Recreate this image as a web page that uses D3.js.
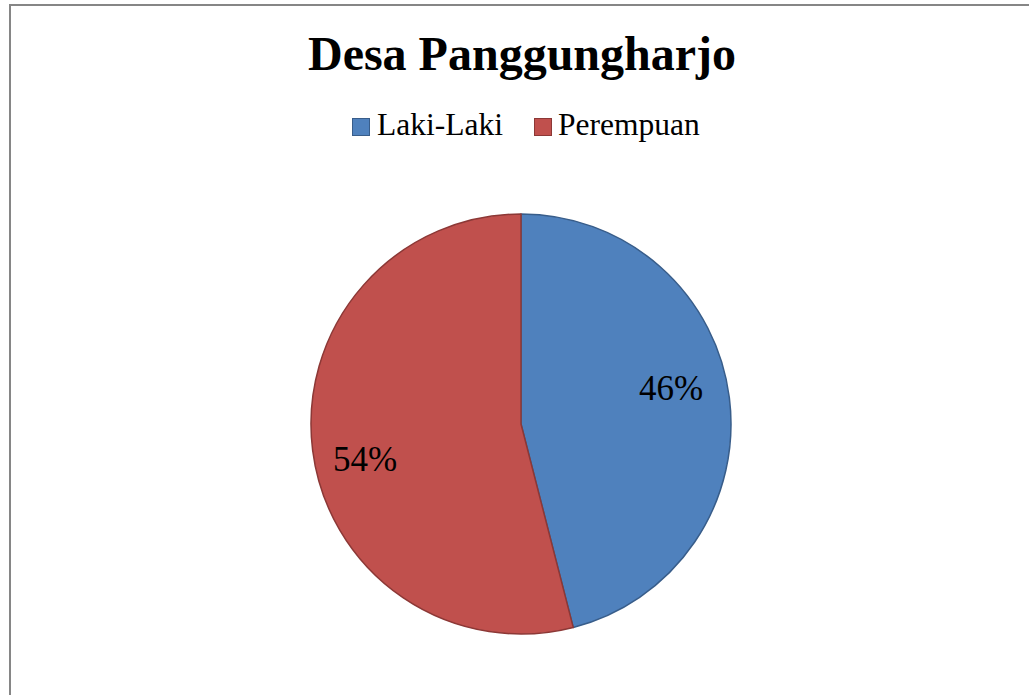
<!DOCTYPE html>
<html>
<head>
<meta charset="utf-8">
<script src="https://cdn.jsdelivr.net/npm/d3@7"></script>
<style>
  html, body { margin: 0; padding: 0; background: #fff; }
  svg { display: block; }
</style>
</head>
<body>
<svg id="chart" width="1029" height="695"></svg>
<script>
// Population by sex, Desa Panggungharjo (percent)
const categories = ["Laki-Laki", "Perempuan"];
const values = [46, 54];
const colors = ["#4F81BD", "#C0504D"];
const strokes = ["#385D8A", "#8C3836"];
const title = "Desa Panggungharjo";

const FONT = "'Liberation Serif', 'Times New Roman', Times, serif";
const svg = d3.select("#chart");
const W = 1029, H = 695;

// chart frame
svg.append("rect")
  .attr("x", 10).attr("y", 5)
  .attr("width", W + 20).attr("height", H + 20)
  .attr("fill", "#fff")
  .attr("stroke", "#868686")
  .attr("stroke-width", 2);

// title
svg.append("text")
  .attr("x", 522).attr("y", 70)
  .attr("text-anchor", "middle")
  .attr("font-family", FONT)
  .attr("font-size", 48)
  .attr("font-weight", "bold")
  .attr("fill", "#000")
  .text(title);

// legend
const legendItems = [
  { x: 352, textX: 377 },
  { x: 534, textX: 558 }
];
const legend = svg.append("g");
categories.forEach((c, i) => {
  legend.append("rect")
    .attr("x", legendItems[i].x + 0.5).attr("y", 118.5)
    .attr("width", 17).attr("height", 17)
    .attr("fill", colors[i])
    .attr("stroke", strokes[i])
    .attr("stroke-width", 1);
  legend.append("text")
    .attr("x", legendItems[i].textX).attr("y", 135)
    .attr("font-family", FONT)
    .attr("font-size", 31.5)
    .attr("fill", "#000")
    .text(c);
});

// pie
const cx = 521, cy = 424, r = 210;
const pie = d3.pie().sort(null).value(d => d)(values);
const arc = d3.arc().innerRadius(0).outerRadius(r);
const g = svg.append("g").attr("transform", `translate(${cx},${cy})`);

g.selectAll("path.slice")
  .data(pie)
  .join("path")
  .attr("class", "slice")
  .attr("d", arc)
  .attr("fill", (d, i) => colors[i])
  .attr("stroke", (d, i) => strokes[i])
  .attr("stroke-width", 1.5)
  .attr("stroke-linejoin", "round");

// percentage labels
const total = d3.sum(values);
const labelArc = d3.arc().innerRadius(157).outerRadius(157);
g.selectAll("text.pct")
  .data(pie)
  .join("text")
  .attr("class", "pct")
  .attr("transform", d => {
    const shift = -0.1;
    const c = labelArc.centroid({ startAngle: d.startAngle + shift, endAngle: d.endAngle + shift });
    return `translate(${c[0] - 3},${c[1]})`;
  })
  .attr("text-anchor", "middle")
  .attr("dy", "0.33em")
  .attr("font-family", FONT)
  .attr("font-size", 35)
  .attr("fill", "#000")
  .text(d => Math.round(d.data / total * 100) + "%");
</script>
</body>
</html>
